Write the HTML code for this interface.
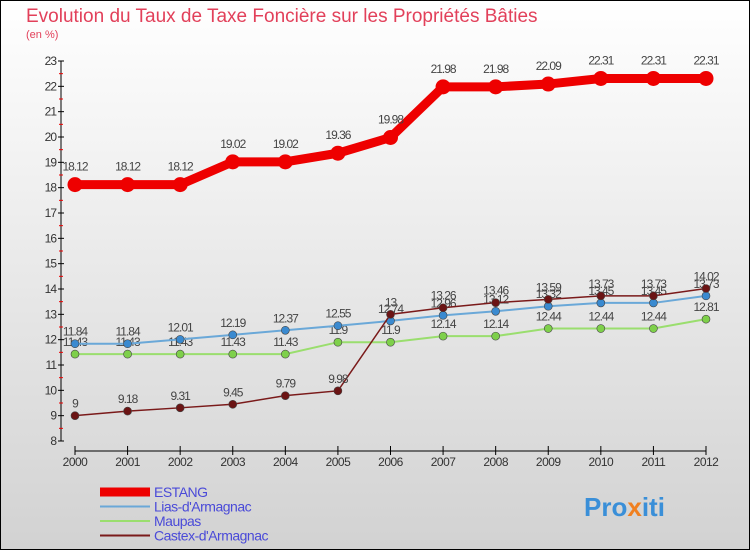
<!DOCTYPE html>
<html><head><meta charset="utf-8"><style>
body{margin:0;}
#c{width:750px;height:550px;position:relative;font-family:"Liberation Sans",sans-serif;}
</style></head><body>
<div id="c">
<svg id="svg" width="750" height="550" xmlns="http://www.w3.org/2000/svg">
<defs><linearGradient id="bg" x1="0" y1="0" x2="0" y2="1"><stop offset="0" stop-color="#ffffff"/><stop offset="1" stop-color="#d2d2d2"/></linearGradient></defs>
<rect x="0.5" y="0.5" width="749" height="549" fill="url(#bg)" stroke="#000"/>
<text x="26" y="22" font-size="19" fill="#e2405a">Evolution du Taux de Taxe Foncière sur les Propriétés Bâties</text>
<text x="26" y="38" font-size="11" fill="#e2405a">(en %)</text>
<g id="axes"></g><g id="series"></g><g id="legend"></g>
<text x="584" y="516" font-size="26" font-weight="bold" fill="#3a8fd8">Pro<tspan fill="#f08020">x</tspan>iti</text>
</svg>
</div>
<script>
const years=[2000,2001,2002,2003,2004,2005,2006,2007,2008,2009,2010,2011,2012];
const estang=[18.12,18.12,18.12,19.02,19.02,19.36,19.98,21.98,21.98,22.09,22.31,22.31,22.31];
const lias=[11.84,11.84,12.01,12.19,12.37,12.55,12.74,12.96,13.12,13.32,13.45,13.45,13.73];
const maupas=[11.43,11.43,11.43,11.43,11.43,11.9,11.9,12.14,12.14,12.44,12.44,12.44,12.81];
const castex=[9,9.18,9.31,9.45,9.79,9.98,13,13.26,13.46,13.59,13.73,13.73,14.02];
const yTicks=[8,9,10,11,12,13,14,15,16,17,18,19,20,21,22,23];
const seriesNames=["ESTANG","Lias-d'Armagnac","Maupas","Castex-d'Armagnac"];
const NS="http://www.w3.org/2000/svg";
const xs=i=>75+i*(706-75)/12;
const ys=v=>441-(v-8)*(441-61)/15;
function mk(t,a,p){const e=document.createElementNS(NS,t);for(const k in a)e.setAttribute(k,a[k]);p.appendChild(e);return e;}
const ax=document.getElementById('axes');
let l=mk('line',{x1:61,y1:61,x2:61,y2:441,stroke:'#000'},ax);


yTicks.forEach(v=>{
 mk('line',{x1:58,y1:ys(v),x2:64,y2:ys(v),stroke:'#000'},ax);
 if(v<23)mk('line',{x1:59,y1:ys(v+0.5),x2:63,y2:ys(v+0.5),stroke:'#e00'},ax);
 const t=mk('text',{x:56,y:ys(v)+4,'font-size':12,fill:'#333','text-anchor':'end','letter-spacing':'-1'},ax);t.textContent=v;
 
 
});
l=mk('line',{x1:75,y1:451,x2:706,y2:451,stroke:'#000'},ax);


years.forEach((y,i)=>{
 mk('line',{x1:xs(i),y1:446,x2:xs(i),y2:455,stroke:'#000'},ax);
 const t=mk('text',{x:xs(i),y:466,'font-size':12,fill:'#333','text-anchor':'middle','letter-spacing':'-0.5'},ax);t.textContent=y;
 
 
});
const sg=document.getElementById('series');
function draw(vals,color,dot,w,r,name){
 const g=mk('g',{},sg);
 
 
 mk('polyline',{points:vals.map((v,i)=>xs(i)+','+ys(v)).join(' '),fill:'none',stroke:color,'stroke-width':w},g);
 vals.forEach((v,i)=>{
  const c=mk('circle',{cx:xs(i),cy:ys(v),r:r,fill:dot,stroke:'#444','stroke-width':r>5?0:0.6},g);
  
  
  const t=mk('text',{x:xs(i),y:ys(v)-(r>5?14:8),'font-size':12,fill:'#444','text-anchor':'middle','letter-spacing':'-1'},g);t.textContent=v;
  
  
 });
}
draw(maupas,'#9ade6e','#7ed04a',2,4,'series-maupas');
draw(lias,'#6aa8d8','#3a8ad0',2,4,'series-lias');
draw(castex,'#7a1a1a','#6b1414',1.5,4,'series-castex');
draw(estang,'#ee0000','#ee0000',9,7.5,'series-estang');
const lg=document.getElementById('legend');
const cols=['#ee0000','#6aa8d8','#9ade6e','#7a1a1a'];const ws=[9,2,2,2];
seriesNames.forEach((n,i)=>{
 const g=mk('g',{},lg);
 
 
 const y=492+i*14.5;
 mk('line',{x1:100,y1:y,x2:150,y2:y,stroke:cols[i],'stroke-width':ws[i]},g);
 const t=mk('text',{x:154,y:y+5,'font-size':14,fill:'#4a4ad8','letter-spacing':'-0.5'},g);t.textContent=n;
});
</script>
</body></html>
